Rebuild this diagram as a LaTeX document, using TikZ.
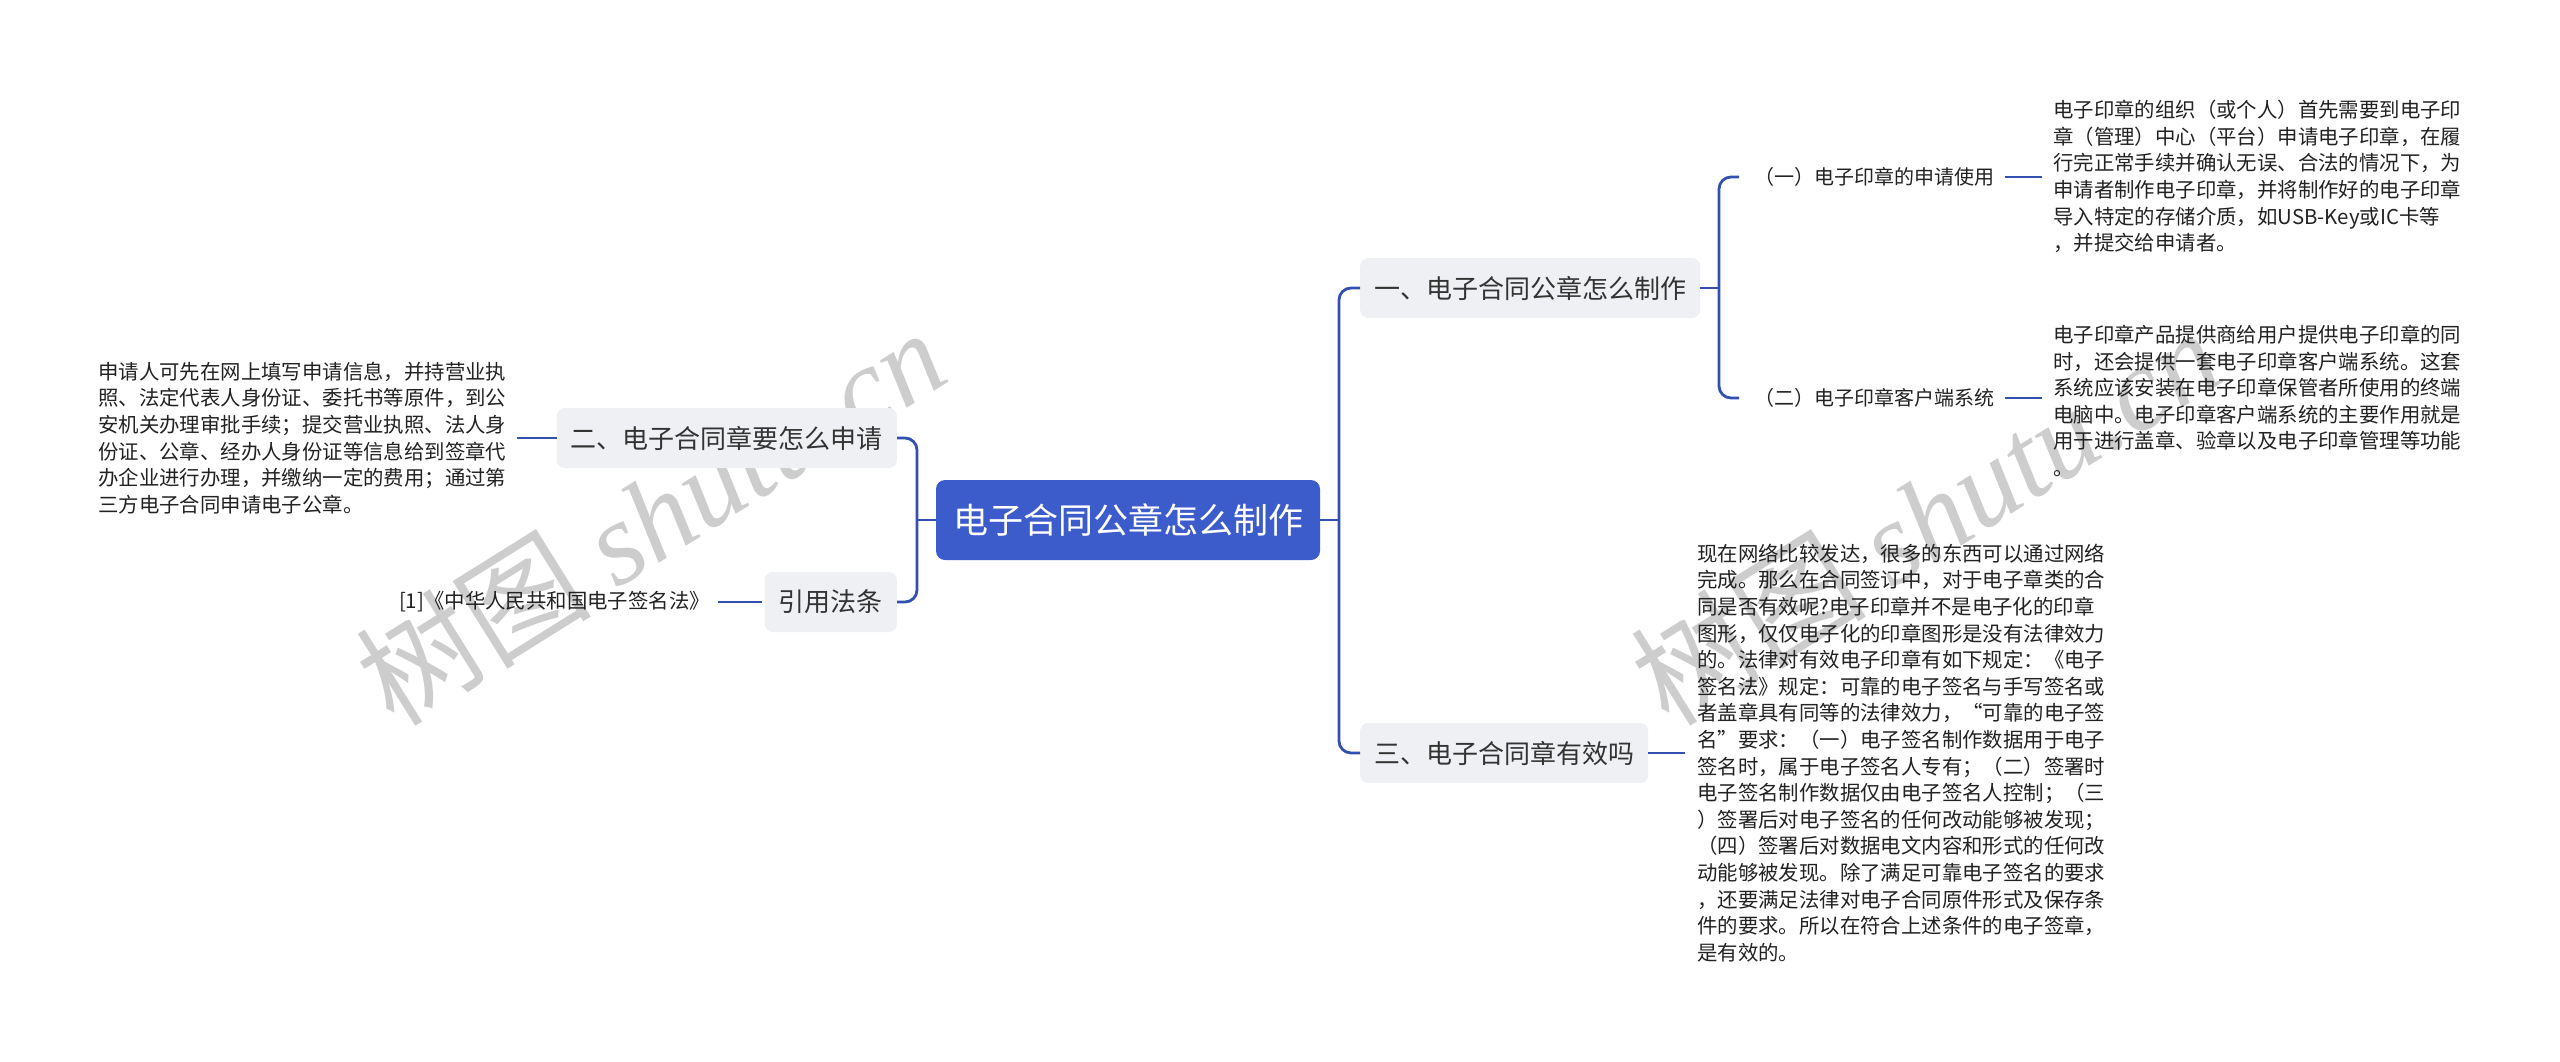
\documentclass[tikz,border=0pt]{standalone}
\usepackage{fontspec}
\setmainfont{Noto Sans CJK SC}
\newfontfamily\wmlatin{Liberation Serif}
\definecolor{rootblue}{HTML}{3D5CCC}
\definecolor{lineblue}{HTML}{3350B0}
\definecolor{nodebg}{HTML}{EEF0F3}
\definecolor{txt}{HTML}{222222}
\definecolor{txtb}{HTML}{333333}
\definecolor{wm}{HTML}{CDCDCD}
\begin{document}
\begin{tikzpicture}[x=1pt,y=-1pt,
  leaf/.style={inner sep=0pt, align=left, anchor=west, font=\fontsize{20.4}{26.6}\selectfont, text=txt},
  sub/.style={inner sep=0pt, anchor=west, font=\fontsize{20}{24}\selectfont, text=txt},
  lvl/.style={fill=nodebg, rounded corners=8pt, inner xsep=14pt, inner ysep=0pt, minimum height=60pt, font=\fontsize{26}{30}\selectfont, text=txtb},
  rootbox/.style={fill=rootblue, rounded corners=9pt, minimum width=384pt, minimum height=80pt, font=\fontsize{35}{40}\selectfont, text=white},
  conn/.style={draw=lineblue, line width=2.8pt, rounded corners=12pt},
  wmark/.style={text=wm, rotate=32, inner sep=0pt}
]
\fill[white] (0,0) rectangle (2560,1061);
\useasboundingbox (0,0) rectangle (2560,1061);

% watermarks
\node[wmark] (wm1) at (650,516) {\fontsize{118}{125}\selectfont\itshape 树图 {\wmlatin shutu.cn}};
\node[wmark] (wm2) at (1925,516) {\fontsize{118}{125}\selectfont\itshape 树图 {\wmlatin shutu.cn}};

% root
\node[rootbox] (root) at (1128,520) {电子合同公章怎么制作};

% level 1
\node[lvl, anchor=west] (n1) at (1360,288) {一、电子合同公章怎么制作};
\node[lvl, anchor=west] (n3) at (1360,753) {三、电子合同章有效吗};
\node[lvl, anchor=east] (n2) at (897,438) {二、电子合同章要怎么申请};
\node[lvl, anchor=east] (ncite) at (897,602) {引用法条};

% sub labels
\node[sub] (s1) at (1754,177) {（一）电子印章的申请使用};
\node[sub] (s2) at (1754,398) {（二）电子印章客户端系统};

% leaves
\node[leaf] (l1) at (2053,176.5) {电子印章的组织（或个人）首先需要到电子印\\章（管理）中心（平台）申请电子印章，在履\\行完正常手续并确认无误、合法的情况下，为\\申请者制作电子印章，并将制作好的电子印章\\导入特定的存储介质，如USB-Key或IC卡等\\，并提交给申请者。};
\node[leaf] (l2) at (2053,401) {电子印章产品提供商给用户提供电子印章的同\\时，还会提供一套电子印章客户端系统。这套\\系统应该安装在电子印章保管者所使用的终端\\电脑中。电子印章客户端系统的主要作用就是\\用于进行盖章、验章以及电子印章管理等功能\\。};
\node[leaf] (l3) at (1697,753) {现在网络比较发达，很多的东西可以通过网络\\完成。那么在合同签订中，对于电子章类的合\\同是否有效呢?电子印章并不是电子化的印章\\图形，仅仅电子化的印章图形是没有法律效力\\的。法律对有效电子印章有如下规定：《电子\\签名法》规定：可靠的电子签名与手写签名或\\者盖章具有同等的法律效力，“可靠的电子签\\名”要求：（一）电子签名制作数据用于电子\\签名时，属于电子签名人专有；（二）签署时\\电子签名制作数据仅由电子签名人控制；（三\\）签署后对电子签名的任何改动能够被发现；\\（四）签署后对数据电文内容和形式的任何改\\动能够被发现。除了满足可靠电子签名的要求\\，还要满足法律对电子合同原件形式及保存条\\件的要求。所以在符合上述条件的电子签章，\\是有效的。};
\node[leaf] (l4) at (98,438) {申请人可先在网上填写申请信息，并持营业执\\照、法定代表人身份证、委托书等原件，到公\\安机关办理审批手续；提交营业执照、法人身\\份证、公章、经办人身份证等信息给到签章代\\办企业进行办理，并缴纳一定的费用；通过第\\三方电子合同申请电子公章。};
\node[leaf, anchor=east] (l5) at (710,602) {[1]《中华人民共和国电子签名法》};

% junctions
\coordinate (jl) at (917,520);
\coordinate (jr) at (1339,520);
\coordinate (j1) at (1719,288);

% connectors
\draw[conn] (root.west) -- (jl);
\draw[conn] (n2.east) -| (jl) |- (ncite.east);
\draw[conn] (root.east) -- (jr);
\draw[conn] (n1.west) -| (jr) |- (n3.west);
\draw[conn] (n1.east) -- (j1);
\draw[conn] ([xshift=-15pt]s1.west) -| (j1) |- ([xshift=-15pt]s2.west);
\draw[conn] ([xshift=11pt]s1.east) -- ([xshift=-11pt]l1.west |- s1.east);
\draw[conn] ([xshift=11pt]s2.east) -- ([xshift=-11pt]l2.west |- s2.east);
\draw[conn] (n3.east) -- ([xshift=-12pt]l3.west);
\draw[conn] ([xshift=11pt]l4.east) -- (n2.west);
\draw[conn] ([xshift=8pt]l5.east) -- ([xshift=-3pt]ncite.west);
\end{tikzpicture}
\end{document}
